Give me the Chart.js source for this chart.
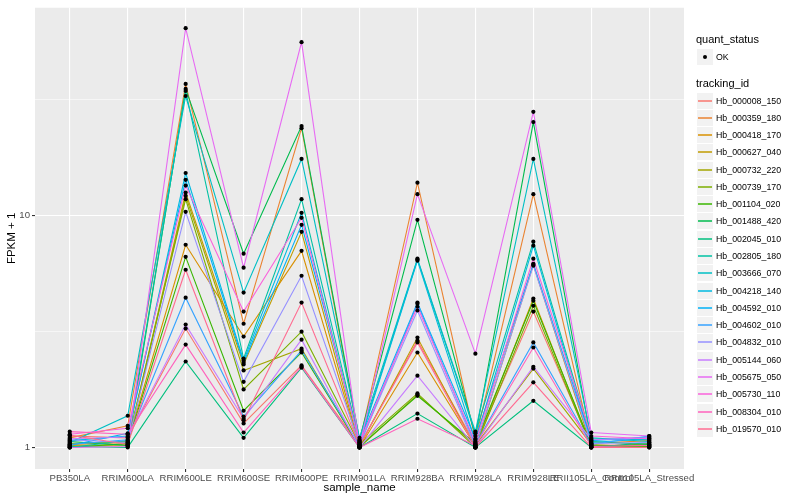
<!DOCTYPE html>
<html>
<head>
<meta charset="utf-8">
<script src="https://cdn.jsdelivr.net/npm/chart.js@4.4.1/dist/chart.umd.min.js"></script>
<style>
  body { margin: 0; background: #fff; font-family: "Liberation Sans", Arial, sans-serif; }
  #wrap { position: relative; width: 800px; height: 500px; }
  .lg { position: absolute; white-space: nowrap; }
  .ltitle { font-size: 11px; color: #000; }
  .lkey { position: absolute; width: 16px; height: 16px; background: #f2f2f2; }
  .lline { position: absolute; left: 1px; right: 1px; top: 7px; height: 2px; opacity: 0.75; }
  .ltext { font-size: 8.8px; color: #000; }
</style>
</head>
<body>
<div id="wrap">
  <canvas id="myChart" width="800" height="500"></canvas>
</div>
<script>
var samples = ['PB350LA', 'RRIM600LA', 'RRIM600LE', 'RRIM600SE', 'RRIM600PE', 'RRIM901LA',
               'RRIM928BA', 'RRIM928LA', 'RRIM928LE', 'RRII105LA_Control', 'RRII105LA_Stressed'];

var trackingIds = ['Hb_000008_150', 'Hb_000359_180', 'Hb_000418_170', 'Hb_000627_040', 'Hb_000732_220',
                   'Hb_000739_170', 'Hb_001104_020', 'Hb_001488_420', 'Hb_002045_010', 'Hb_002805_180',
                   'Hb_003666_070', 'Hb_004218_140', 'Hb_004592_010', 'Hb_004602_010', 'Hb_004832_010',
                   'Hb_005144_060', 'Hb_005675_050', 'Hb_005730_110', 'Hb_008304_010', 'Hb_019570_010'];

var colors = ['#F8766D', '#EA8331', '#D89000', '#C09B00', '#A3A500', '#7CAE00', '#39B600', '#00BB4E',
              '#00BF7D', '#00C1A3', '#00BFC4', '#00BAE0', '#00B0F6', '#35A2FF', '#9590FF', '#C77CFF',
              '#E76BF3', '#FA62DB', '#FF62BC', '#FF6C91'];

// FPKM + 1, one value per sample
var hb_000008_150 = [1.12, 1.10, 3.26, 1.27, 2.26, 1.02, 2.89, 1.03, 3.86, 1.02, 1.03];
var hb_000359_180 = [1.10, 1.24, 37.1, 3.42, 23.9, 1.05, 13.9, 1.08, 12.4, 1.04, 1.07];
var hb_000418_170 = [1.03, 1.05, 7.50, 3.01, 7.06, 1.00, 2.57, 1.01, 4.39, 1.00, 1.01];
var hb_000627_040 = [1.02, 1.03, 12.6, 2.28, 8.53, 1.01, 2.98, 1.00, 6.15, 1.01, 1.02];
var hb_000732_220 = [1.01, 1.02, 12.2, 2.15, 2.67, 1.00, 1.69, 1.02, 2.19, 1.03, 1.00];
var hb_000739_170 = [1.04, 1.06, 11.8, 1.78, 3.16, 1.03, 1.71, 1.00, 4.09, 1.00, 1.04];
var hb_001104_020 = [1.00, 1.04, 6.65, 1.44, 2.57, 1.01, 1.67, 1.04, 4.30, 1.02, 1.01];
var hb_001488_420 = [1.06, 1.02, 35.3, 6.86, 24.4, 1.08, 9.61, 1.12, 25.4, 1.06, 1.03];
var hb_002045_010 = [1.01, 1.00, 2.35, 1.10, 2.21, 1.00, 1.40, 1.00, 1.59, 1.00, 1.05];
var hb_002805_180 = [1.00, 1.07, 34.6, 2.42, 11.8, 1.06, 6.47, 1.15, 7.73, 1.09, 1.08];
var hb_003666_070 = [1.05, 1.37, 32.9, 4.66, 17.6, 1.10, 6.53, 1.17, 17.6, 1.10, 1.06];
var hb_004218_140 = [1.07, 1.12, 15.3, 2.37, 10.3, 1.04, 6.40, 1.06, 7.43, 1.05, 1.09];
var hb_004592_010 = [1.02, 1.15, 14.3, 2.32, 9.14, 1.07, 4.22, 1.09, 6.21, 1.07, 1.11];
var hb_004602_010 = [1.03, 1.08, 4.43, 1.36, 2.62, 1.02, 4.17, 1.03, 2.84, 1.03, 1.12];
var hb_004832_010 = [1.08, 1.05, 10.4, 1.92, 5.51, 1.03, 3.90, 1.01, 6.09, 1.04, 1.05];
var hb_005144_060 = [1.09, 1.11, 3.39, 1.33, 2.92, 1.00, 2.04, 1.00, 2.23, 1.08, 1.10];
var hb_005675_050 = [1.00, 1.01, 64.6, 5.97, 56.2, 1.01, 12.4, 2.54, 28.1, 1.16, 1.12];
var hb_005730_110 = [1.14, 1.21, 13.5, 3.86, 9.80, 1.05, 4.05, 1.05, 6.53, 1.12, 1.09];
var hb_008304_010 = [1.17, 1.14, 2.78, 1.16, 2.23, 1.00, 1.33, 1.02, 2.70, 1.01, 1.02];
var hb_019570_010 = [1.13, 1.03, 5.85, 1.31, 4.22, 1.02, 2.84, 1.00, 1.91, 1.00, 1.00];

var series = [hb_000008_150, hb_000359_180, hb_000418_170, hb_000627_040, hb_000732_220,
              hb_000739_170, hb_001104_020, hb_001488_420, hb_002045_010, hb_002805_180,
              hb_003666_070, hb_004218_140, hb_004592_010, hb_004602_010, hb_004832_010,
              hb_005144_060, hb_005675_050, hb_005730_110, hb_008304_010, hb_019570_010];

var yMajor = [1, 10];
var yMinor = [Math.sqrt(10), Math.sqrt(1000)];

function toPoints(vals) {
    return vals.map(function (v, i) { return { x: i, y: v }; });
}

var datasets = [];
var allPoints = [];
series.forEach(function (vals) { allPoints = allPoints.concat(toPoints(vals)); });

// black points on top of every line
datasets.push({
    type: 'scatter',
    label: 'OK',
    data: allPoints,
    showLine: false,
    pointRadius: 2.1,
    pointBackgroundColor: '#000',
    pointBorderWidth: 0,
    order: 0
});

series.forEach(function (vals, i) {
    datasets.push({
        type: 'line',
        label: trackingIds[i],
        data: toPoints(vals),
        borderColor: colors[i],
        borderWidth: 1.1,
        pointRadius: 0,
        tension: 0,
        fill: false,
        order: 20 - i
    });
});

var panelBg = {
    id: 'panelBg',
    beforeDraw: function (chart) {
        var a = chart.chartArea, c = chart.ctx;
        c.save();
        c.fillStyle = '#EBEBEB';
        c.fillRect(a.left, a.top, a.right - a.left, a.bottom - a.top);
        c.restore();
    }
};

var ctx = document.getElementById('myChart').getContext('2d');
var myChart = new Chart(ctx, {
    data: { datasets: datasets },
    plugins: [panelBg],
    options: {
        responsive: false,
        animation: false,
        events: [],
        layout: { padding: { top: 5, right: 116, left: 0, bottom: 0 } },
        plugins: { legend: { display: false }, tooltip: { enabled: false } },
        scales: {
            x: {
                type: 'linear',
                min: -0.6,
                max: 10.6,
                afterBuildTicks: function (scale) {
                    scale.ticks = samples.map(function (s, i) { return { value: i }; });
                },
                afterFit: function (scale) { scale.height = 31; },
                ticks: {
                    autoSkip: false,
                    maxRotation: 0,
                    padding: 1,
                    color: '#4D4D4D',
                    font: { family: 'Liberation Sans', size: 9.6 },
                    callback: function (v) { return samples[v]; }
                },
                grid: { color: '#FFFFFF', lineWidth: 1.1, tickLength: 3, tickColor: '#333333' },
                border: { display: false },
                title: {
                    display: true,
                    text: 'sample_name',
                    color: '#000',
                    padding: { top: 0, bottom: 5 },
                    font: { family: 'Liberation Sans', size: 11.5 }
                }
            },
            y: {
                type: 'logarithmic',
                min: 0.807,
                max: 79.1,
                afterBuildTicks: function (scale) {
                    scale.ticks = yMajor.concat(yMinor).map(function (v) { return { value: v }; });
                },
                afterFit: function (scale) { scale.width = 35; },
                ticks: {
                    padding: 2,
                    color: '#4D4D4D',
                    font: { family: 'Liberation Sans', size: 9.6 },
                    callback: function (v) { return yMajor.indexOf(v) >= 0 ? String(v) : ''; }
                },
                grid: {
                    color: '#FFFFFF',
                    tickLength: 3,
                    lineWidth: function (c) { return yMajor.indexOf(c.tick.value) >= 0 ? 1.1 : 0.55; },
                    tickColor: function (c) { return yMajor.indexOf(c.tick.value) >= 0 ? '#333333' : 'rgba(0,0,0,0)'; }
                },
                border: { display: false },
                title: {
                    display: true,
                    text: 'FPKM + 1',
                    color: '#000',
                    padding: { top: 5, bottom: 0 },
                    font: { family: 'Liberation Sans', size: 11.5 }
                }
            }
        }
    }
});

// legend, ggplot style
var wrap = document.getElementById('wrap');
function addEl(cls, css, text) {
    var d = document.createElement('div');
    d.className = cls;
    d.style.cssText = css;
    if (text) d.textContent = text;
    wrap.appendChild(d);
    return d;
}
addEl('lg ltitle', 'left:696px;top:33px;', 'quant_status');
var okKey = addEl('lkey', 'left:697px;top:49px;');
var dot = document.createElement('div');
dot.style.cssText = 'position:absolute;left:6px;top:6px;width:4px;height:4px;border-radius:2px;background:#000;';
okKey.appendChild(dot);
addEl('lg ltext', 'left:716px;top:52px;', 'OK');
addEl('lg ltitle', 'left:696px;top:77px;', 'tracking_id');
trackingIds.forEach(function (id, i) {
    var top = Math.round(92.5 + i * 17.28);
    var key = addEl('lkey', 'left:697px;top:' + top + 'px;');
    var ln = document.createElement('div');
    ln.className = 'lline';
    ln.style.background = colors[i];
    key.appendChild(ln);
    addEl('lg ltext', 'left:716px;top:' + (top + 3) + 'px;', id);
});
</script>
</body>
</html>
